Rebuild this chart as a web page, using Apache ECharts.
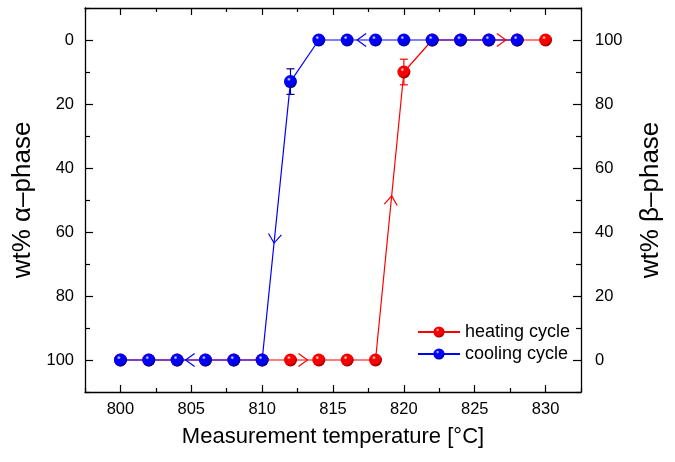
<!DOCTYPE html>
<html>
<head>
<meta charset="utf-8">
<script src="https://cdn.jsdelivr.net/npm/echarts@6/dist/echarts.min.js"></script>
<style>html,body{margin:0;padding:0;background:#fff}#c{width:675px;height:462px}</style>
</head>
<body>
<div id="c"></div>
<script>
// ---- data ----
const heatingTemps = [800,802,804,806,808,810,812,814,816,818,820,822,824,826,828,830];
const heatingAlpha = [100,100,100,100,100,100,100,100,100,100,10,0,0,0,0,0];
const coolingTemps = [828,826,824,822,820,818,816,814,812,810,808,806,804,802,800];
const coolingAlpha = [0,0,0,0,0,0,0,0,13,100,100,100,100,100,100];
// error bars: [temperature, value, error]
const heatingErr = [[820,10,4]];
const coolingErr = [[812,13,4]];
// direction arrows: [fromX, fromY, toX, toY, fraction along segment]
const heatingArrows = [[812,100,814,100,0.6],[818,100,820,10,0.57],[826,0,828,0,0.6]];
const coolingArrows = [[818,0,816,0,0.65],[812,13,810,100,0.58],[806,100,804,100,0.7]];
const xMajorTicks = [800,805,810,815,820,825,830];
const xMinorTicks = [797.5,802.5,807.5,812.5,817.5,822.5,827.5,832.5];
const yMajorTicks = [0,20,40,60,80,100];
const yMinorTicks = [-10,10,30,50,70,90,110];
const seriesNames = ['heating cycle','cooling cycle'];

const RED = '#ff0000', BLUE = '#0000ff';
function ball(c, hi, dark) {
  return new echarts.graphic.RadialGradient(0.38, 0.32, 0.7, [
    {offset:0, color:hi},{offset:0.22, color:c},{offset:0.7, color:c},{offset:1, color:dark}
  ]);
}
const redBall = ball('#f80000','#fff4f4','#800000');
const blueBall = ball('#0000f8','#f4f4ff','#000080');

const chart = echarts.init(document.getElementById('c'), null, {renderer:'canvas'});
const FONT = 'Liberation Sans';
const axLine = {show:true, onZero:false, lineStyle:{color:'#000', width:1.3}};
function xAx(pos, major, labels, name) {
  return {
    type:'value', position:pos, min:797.5, max:832.5,
    name: name || '', nameLocation:'middle', nameGap:34,
    nameTextStyle:{fontFamily:FONT, fontSize:22, color:'#000'},
    axisLine: major ? axLine : {show:false, onZero:false},
    axisTick:{show:true, inside:true, length: major?7:4, customValues: major?xMajorTicks:xMinorTicks, lineStyle:{color:'#000', width:1.2}},
    axisLabel:{show:labels, customValues:xMajorTicks, fontFamily:FONT, fontSize:16.5, color:'#000', margin:9},
    splitLine:{show:false}
  };
}
function yAx(pos, major, labels, inverse, name, gap, margin) {
  return {
    type:'value', position:pos, min:-10, max:110, inverse:inverse,
    name: name || '', nameLocation:'middle', nameGap:gap || 0, nameRotate:90,
    nameTextStyle:{fontFamily:FONT, fontSize:26, color:'#000'},
    axisLine: major ? axLine : {show:false, onZero:false},
    axisTick:{show:true, inside:true, length: major?8:5, customValues: major?yMajorTicks:yMinorTicks, lineStyle:{color:'#000', width:1.2}},
    axisLabel:{show:labels, customValues:yMajorTicks, fontFamily:FONT, fontSize:16.5, color:'#000', margin:margin || 11},
    splitLine:{show:false}
  };
}

function zip(xs, ys){ return xs.map((x,i)=>[x, ys[i]]); }

function arrowSeries(data, color) {
  return {
    type:'custom', xAxisIndex:0, yAxisIndex:0, z:5, silent:true,
    encode:{x:[0,2], y:[1,3]},
    data:data,
    renderItem:function(params, api){
      const a = api.coord([api.value(0), api.value(1)]);
      const b = api.coord([api.value(2), api.value(3)]);
      const t = api.value(4);
      const dx = b[0]-a[0], dy = b[1]-a[1];
      const len = Math.sqrt(dx*dx+dy*dy);
      const ux = dx/len, uy = dy/len, nx = -uy, ny = ux;
      const px = a[0]+dx*t, py = a[1]+dy*t;
      const L = 9, W = 6.5;
      return {type:'polyline', shape:{points:[[px-L*ux+W*nx, py-L*uy+W*ny],[px,py],[px-L*ux-W*nx, py-L*uy-W*ny]]},
        style:{stroke:color, lineWidth:1.2, fill:null}};
    }
  };
}
function errSeries(data, color) {
  return {
    type:'custom', xAxisIndex:0, yAxisIndex:0, z:1, silent:true,
    encode:{x:0, y:1},
    data:data,
    renderItem:function(params, api){
      const x = api.value(0), y = api.value(1), e = api.value(2);
      const top = api.coord([x, y-e]), bot = api.coord([x, y+e]);
      const w = 4;
      return {type:'group', children:[
        {type:'line', shape:{x1:top[0], y1:top[1], x2:bot[0], y2:bot[1]}, style:{stroke:color, lineWidth:1.2}},
        {type:'line', shape:{x1:top[0]-w, y1:top[1], x2:top[0]+w, y2:top[1]}, style:{stroke:color, lineWidth:1.2}},
        {type:'line', shape:{x1:bot[0]-w, y1:bot[1], x2:bot[0]+w, y2:bot[1]}, style:{stroke:color, lineWidth:1.2}}
      ]};
    }
  };
}

const option = {
  animation:false,
  backgroundColor:'#fff',
  grid:{left:85, right:94, top:8, bottom:70, containLabel:false},
  xAxis:[
    xAx('bottom', true, true, 'Measurement temperature [°C]'),
    xAx('bottom', false, false),
    xAx('top', true, false),
    xAx('top', false, false)
  ],
  yAxis:[
    yAx('left', true, true, true, 'wt% α–phase', 32, 11),
    yAx('left', false, false, true),
    yAx('right', true, true, false, 'wt% β–phase', 57, 14),
    yAx('right', false, false, false)
  ],
  legend:{
    orient:'vertical', left:412, top:318, itemWidth:42, itemHeight:14, itemGap:4,
    textStyle:{fontFamily:FONT, fontSize:18, color:'#000'},
    data:seriesNames
  },
  series:[
    errSeries(heatingErr, RED),
    errSeries(coolingErr, '#000080'),
    {name:seriesNames[0], type:'line', xAxisIndex:0, yAxisIndex:0, z:2,
      data:zip(heatingTemps, heatingAlpha), symbol:'circle', symbolSize:13,
      lineStyle:{color:RED, width:1.2}, itemStyle:{color:redBall, borderWidth:0}},
    {name:seriesNames[1], type:'line', xAxisIndex:0, yAxisIndex:0, z:3,
      data:zip(coolingTemps, coolingAlpha), symbol:'circle', symbolSize:13,
      lineStyle:{color:BLUE, width:1.2}, itemStyle:{color:blueBall, borderWidth:0}},
    arrowSeries(heatingArrows, RED),
    arrowSeries(coolingArrows, BLUE)
  ]
};
chart.setOption(option);
</script>
</body>
</html>
